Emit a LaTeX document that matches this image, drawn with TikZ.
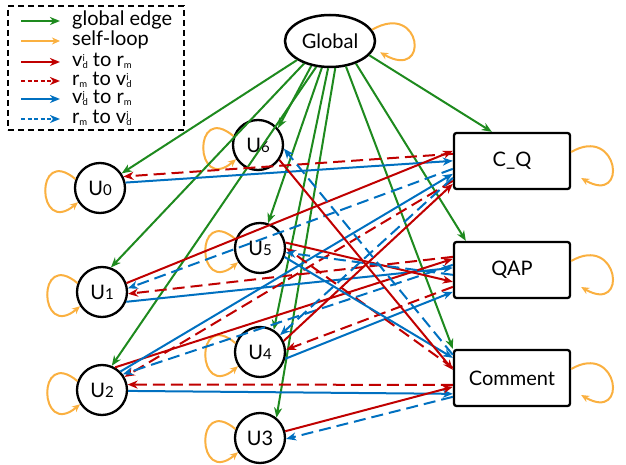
\documentclass[tikz,border=0pt]{standalone}
\usepackage{fontspec}
\setmainfont{Lato}
\usetikzlibrary{arrows.meta,shapes.geometric,calc}
\definecolor{ggreen}{RGB}{30,138,30}
\definecolor{lorange}{RGB}{250,176,64}
\definecolor{rred}{RGB}{192,0,0}
\definecolor{bblue}{RGB}{0,112,192}
\newcommand\dsub[1]{{\fontsize{15}{15}\selectfont #1}}
\newcommand\lsub[1]{\raisebox{-1.2pt}{\fontsize{9.5}{10}\selectfont #1}}
\newcommand\lsup[1]{\raisebox{5.5pt}{\fontsize{9.5}{10}\selectfont #1}}
\newcommand\vdx[1]{v\rlap{\lsup{#1}}\lsub{d}}
\begin{document}
\begin{tikzpicture}[x=1pt,y=-1pt,
  bigfont/.style={font=\fontsize{20}{24}\selectfont},
  unode/.style={circle,draw,line width=2.3pt,minimum size=50pt,inner sep=0pt,bigfont},
  gnode/.style={ellipse,draw,line width=2.5pt,minimum width=90pt,minimum height=52pt,inner sep=0pt,bigfont},
  bnode/.style={rectangle,rounded corners=2.5pt,draw,line width=2.3pt,minimum width=116pt,minimum height=56pt,bigfont},
  tip/.style={-{Stealth[length=10pt,width=8pt,inset=3pt]}},
  gedge/.style={draw=ggreen,line width=2pt,tip},
  loopst/.style={draw=lorange,line width=2pt,-{Stealth[length=8pt,width=7pt,inset=2.5pt]}},
  rS/.style={draw=rred,line width=2pt,tip},
  rD/.style={draw=rred,line width=2pt,tip,dash pattern=on 12pt off 6pt},
  bS/.style={draw=bblue,line width=2pt,tip},
  bD/.style={draw=bblue,line width=2pt,tip,dash pattern=on 12pt off 6pt},
  legdash/.style={dash pattern=on 4pt off 2.5pt},
  legtext/.style={anchor=base west,bigfont,inner sep=0pt},
  legbox/.style={draw,line width=1.2pt,dash pattern=on 6pt off 4pt,minimum width=176pt,minimum height=124pt,inner sep=0pt}
]
\useasboundingbox (0,0) rectangle (626,465);

% legend
\node[legbox] (legend) at (96,68) {};
\foreach \i/\y in {1/21,2/41,3/62,4/81,5/99,6/119}{
  \coordinate (la\i) at (21,\y);
  \coordinate (lb\i) at (60,\y);
}
\draw[gedge] (la1) -- (lb1);
\draw[loopst] (la2) -- (lb2);
\draw[rS] (la3) -- (lb3);
\draw[rS,legdash] (la4) -- (lb4);
\draw[bS] (la5) -- (lb5);
\draw[bS,legdash] (la6) -- (lb6);
\node[legtext] (t1) at (72,26) {global edge};
\node[legtext] (t2) at (72,46) {self-loop};
\node[legtext] (t3) at (72,67) {\vdx{i} to r\lsub{m}};
\node[legtext] (t4) at (72,86) {r\lsub{m} to \vdx{i}};
\node[legtext] (t5) at (72,104) {\vdx{j} to r\lsub{m}};
\node[legtext] (t6) at (72,124) {r\lsub{m} to \vdx{j}};

% nodes
\node[gnode] (Global) at (330,41) {Global};
\node[unode] (U0) at (100,188) {U\dsub{0}};
\node[unode] (U1) at (102,292) {U\dsub{1}};
\node[unode] (U2) at (102,390) {U\dsub{2}};
\node[unode] (U6) at (258,145) {U\dsub{6}};
\node[unode] (U5) at (260,248) {U\dsub{5}};
\node[unode] (U4) at (260,352) {U\dsub{4}};
\node[unode] (U3) at (260,438) {U3};
\node[bnode] (CQ) at (512,161) {C\_Q};
\node[bnode] (QAP) at (512,270) {QAP};
\node[bnode] (Comment) at (512,378) {Comment};

% attachment points on the boxes
\foreach \k in {19,22,29,37,42,46,49,52}{\path (CQ.north west) ++(0,\k) coordinate (cq\k);}
\foreach \k in {16,18,24,27,34,41,46,51}{\path (QAP.north west) ++(0,\k) coordinate (qp\k);}
\foreach \k in {6,9,19,21,36,38,45,48}{\path (Comment.north west) ++(0,\k) coordinate (cm\k);}
\coordinate (qtop) at ([xshift=13pt]QAP.north west);
\coordinate (ctop) at ([xshift=39pt]CQ.north west);

% self loops
\foreach \u in {U0,U1,U2,U3,U4,U5,U6}{
  \draw[loopst] (\u.160) .. controls +(140:54pt) and +(220:54pt) .. (\u.213);
}
\foreach \b in {CQ,QAP,Comment}{
  \draw[loopst] ([yshift=9pt]\b.east) .. controls +(30:55pt) and +(-30:55pt) .. ([xshift=10pt,yshift=-17pt]\b.east);
}
\draw[loopst] (Global.15) .. controls +(30:58pt) and +(-30:58pt) .. ([xshift=8pt]Global.-15);

% global edges
\draw[gedge] (Global.210) -- (U0.34);
\draw[gedge] (Global.221) -- (U1.70);
\draw[gedge] (Global.233) -- (U6.40);
\draw[gedge] (Global.242) -- (U2.68);
\draw[gedge] (Global.253) -- (U5.72);
\draw[gedge] (Global.266) -- (U4.58);
\draw[gedge] (Global.281) -- (U3.51);
\draw[gedge] (Global.302) -- (Comment.north west);
\draw[gedge] (Global.319) -- (qtop);
\draw[gedge] (Global.340) -- (ctop);

% U0
\draw[rD] (cq22) -- (U0.26);
\draw[bS] (U0.12) -- (cq29);
% U1
\draw[rS] (U1.20) -- (cq19);
\draw[bD] (cq37) -- (U1.8);
\draw[rD] (qp16) -- (U1.-4);
\draw[bS] (U1.-22) -- (qp27);
% U2
\draw[rS] (U2.60) -- (qp18);
\draw[bS] (U2.45) -- (cq42);
\draw[rD] (cq49) -- (U2.30);
\draw[bD] (qp24) -- (U2.37);
\draw[rD] (cm36) -- (U2.12);
\draw[bS] (U2.-2) -- (cm45);
% U3
\draw[rS] (U3.15) -- (cm38);
\draw[bD] (cm48) -- (U3.-2);
% U4
\draw[rS] (U4.25) -- (cq52);
\draw[bD] (cq46) -- (U4.40);
\draw[rD] (qp46) -- (U4.5);
\draw[bS] (U4.-15) -- (qp51);
% U5
\draw[rS] (U5.12) -- (qp41);
\draw[rD] (cm19) -- (U5.0);
\draw[bS] (U5.-20) -- (cm9);
\draw[bD] (qp34) -- (U5.-10);
% U6
\draw[rS] (U6.-35) -- (cm21);
\draw[bD] (cm6) -- (U6.-8);
\end{tikzpicture}
\end{document}
